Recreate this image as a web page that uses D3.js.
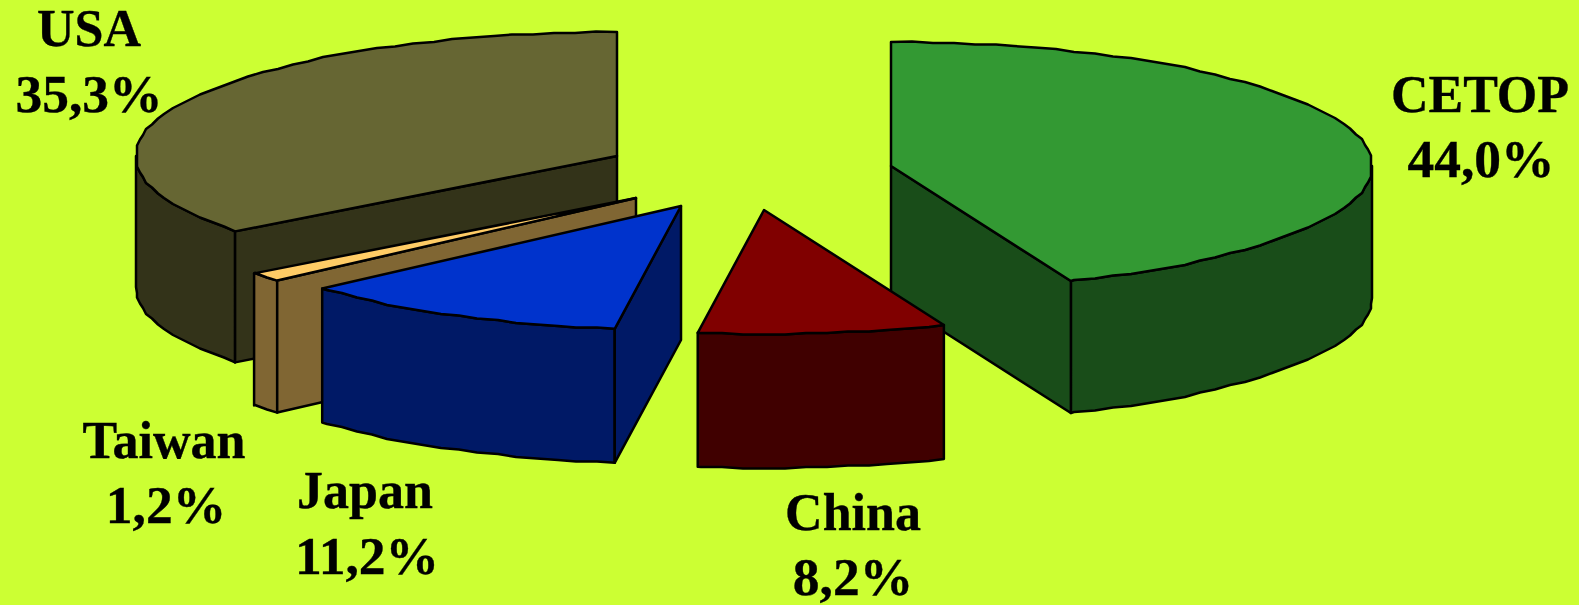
<!DOCTYPE html>
<html>
<head>
<meta charset="utf-8">
<script src="https://cdn.jsdelivr.net/npm/d3@7"></script>
<style>
html,body{margin:0;padding:0;background:#CCFF33;overflow:hidden}
svg{display:block}
text{font-family:"Liberation Serif",serif;font-weight:bold;fill:#000;stroke:#000;stroke-width:.35;text-anchor:middle}
.name{font-size:52px}
.val{font-size:53.5px}
</style>
</head>
<body>
<svg id="c" width="1579" height="605"></svg>
<script>
// Data
const categories = ["CETOP", "China", "Japan", "Taiwan", "USA"];
const shares = [44.0, 8.2, 11.2, 1.2, 35.3];          // printed labels
const sliceSizes = [43.9, 8.3, 11.2, 1.2, 35.4];      // sizes

// Layout and style
const topColors = ["#339933", "#800000", "#0033CC", "#FFCC66", "#666633"];
const wallColors = ["#194D19", "#400000", "#001966", "#806633", "#333319"];
const apexX = [891, 764, 681, 636, 617];
const apexY = [166, 210, 206, 198, 156];
const depths = [132, 134, 134, 132, 131];
const nameX = [1480, 853, 365, 164, 89];
const nameY = [112, 530, 508, 458, 46];
const valX = [1481, 853, 367, 166, 89];
const valY = [177, 595, 574, 523, 112];
const drawOrder = [4, 3, 2, 0, 1];
const rx = 481, ry = 124;

const fmt = v => v.toFixed(1).replace(".", ",") + "%";
const arcs = d3.pie().sort(null).value(d => d)(sliceSizes);
const sx = d3.scaleLinear().domain([-1, 1]).range([-rx, rx]);
const sy = d3.scaleLinear().domain([-1, 1]).range([ry, -ry]);
const svg = d3.select("#c");
const line = d3.line();
const q = (v, g) => Math.round(v / g) * g;
const step = Math.PI / 72;

function rimPoint(i, a, dz) {
  return [apexX[i] + sx(Math.sin(a)), apexY[i] + dz + sy(Math.cos(a))];
}
// Rim sampled on a fixed angular grid, snapped to a coarse lattice for the
// slightly stepped outline of the original.
function rim(i, a0, a1, dz) {
  const inner = d3.range(Math.floor(a0 / step) + 1, Math.ceil(a1 / step)).map(k => {
    const a = k * step;
    return [apexX[i] + q(sx(Math.sin(a)), 3), apexY[i] + dz + q(sy(Math.cos(a)), 1.5)];
  });
  return [rimPoint(i, a0, dz), ...inner, rimPoint(i, a1, dz)];
}
function draw(pts, fill) {
  svg.append("path").attr("d", line(pts) + "Z").attr("fill", fill)
    .attr("stroke", "#000").attr("stroke-width", 2.5).attr("stroke-linejoin", "round");
}

drawOrder.forEach(i => {
  const { startAngle: a0, endAngle: a1 } = arcs[i];
  const depth = depths[i];
  const c = [apexX[i], apexY[i]], cb = [c[0], c[1] + depth];
  // visible outer wall
  const w0 = Math.max(a0, Math.PI / 2), w1 = Math.min(a1, 3 * Math.PI / 2);
  if (w1 > w0) draw(rim(i, w0, w1, 0).concat(rim(i, w0, w1, depth).reverse()), wallColors[i]);
  // visible cut walls
  if (Math.sin(a0) < -1e-6) draw([c, rimPoint(i, a0, 0), rimPoint(i, a0, depth), cb], wallColors[i]);
  if (Math.sin(a1) > 1e-6) draw([c, rimPoint(i, a1, 0), rimPoint(i, a1, depth), cb], wallColors[i]);
  // top face
  draw([c].concat(rim(i, a0, a1, 0)), topColors[i]);
});

categories.forEach((name, i) => {
  svg.append("text").attr("class", "name").attr("x", nameX[i]).attr("y", nameY[i]).text(name);
  svg.append("text").attr("class", "val").attr("x", valX[i]).attr("y", valY[i]).text(fmt(shares[i]));
});
</script>
</body>
</html>
